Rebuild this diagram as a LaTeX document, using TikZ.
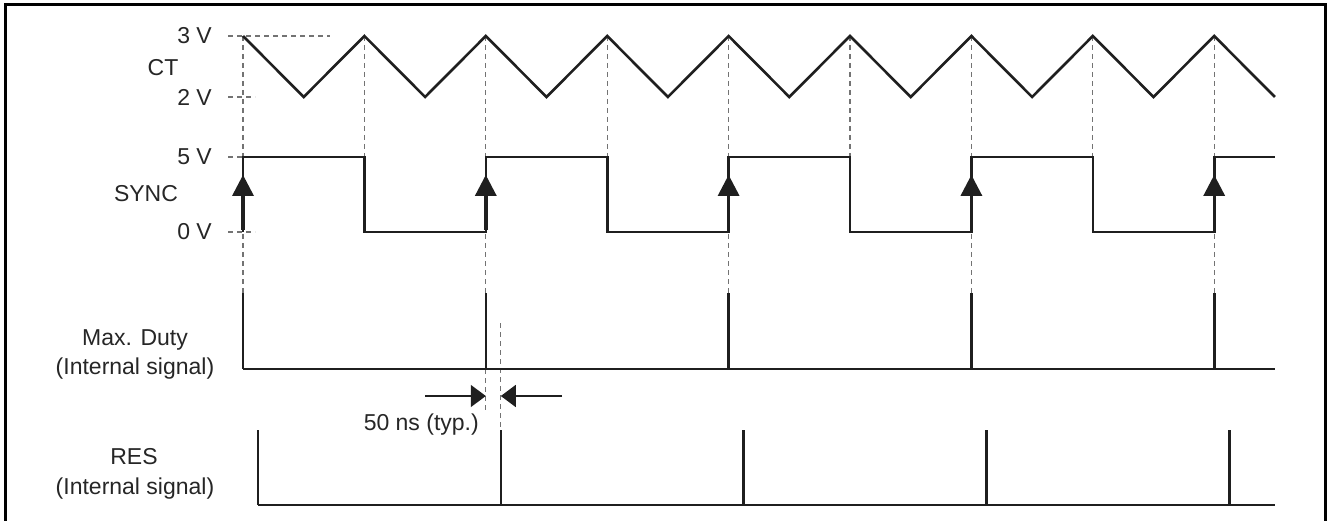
\documentclass[tikz,border=0pt]{standalone}
\usepackage{fontspec}
\setmainfont{Liberation Sans}
\usetikzlibrary{arrows.meta}
\begin{document}
\begin{tikzpicture}[x=1pt,y=-1pt,
  sig/.style={line width=2.6pt,draw=black!88,line join=miter},
  guide/.style={line width=1.2pt,draw=black!55,dash pattern=on 5pt off 4pt},
  lbl/.style={font=\fontsize{23}{29}\selectfont,inner sep=0pt,text=black!85},
  tri/.style={fill=black!88,draw=none},
  dim/.style={line width=1.5pt,draw=black!88,-{Triangle[length=15pt,width=22pt]}}]
\useasboundingbox (0,0) rectangle (1329,521);
% frame
\draw[line width=3pt] (5,540) -- (5,5) -- (1325,5) -- (1325,540);
% labels
\node[lbl,anchor=east] (l3v) at (212,36) {3 V};
\node[lbl] (lct) at (163,67.5) {CT};
\node[lbl,anchor=east] (l2v) at (212,97) {2 V};
\node[lbl,anchor=east] (l5v) at (212,157) {5 V};
\node[lbl] (lsync) at (146,193.5) {SYNC};
\node[lbl,anchor=east] (l0v) at (212,232) {0 V};
\node[lbl,anchor=base] (lmax) at (135,345) {Max. Duty};
\node[lbl,anchor=base] (lint1) at (135,374) {(Internal signal)};
\node[lbl,anchor=base] (lres) at (134,464) {RES};
\node[lbl,anchor=base] (lint2) at (135,494) {(Internal signal)};
\node[lbl,anchor=base east] (lns) at (479,430) {50 ns (typ.)};
% level guides
\draw[guide] (228,36) -- (330,36);
\draw[guide] (228,97) -- (255,97);
\draw[guide] (228,157) -- (243,157);
\draw[guide] (228,232) -- (255,232);
% vertical guides
\foreach \x in {243,485.8,728.6,971.4,1214.2} \draw[guide] (\x,36) -- (\x,293);
\foreach \x in {364.4,607.2,850,1092.8} \draw[guide] (\x,36) -- (\x,157);
\draw[guide] (485.8,369) -- (485.8,413);
\draw[guide] (500.8,323) -- (500.8,430);
% CT triangle wave
\draw[sig] (243,36)
  \foreach \k in {0,...,7} { -- ({243+121.4*\k+60.7},97) -- ({243+121.4*(\k+1)},36) }
  -- (1274.9,97);
% SYNC
\draw[sig] (243,232) -- (243,157) -- (364.4,157) -- (364.4,232) -- (485.8,232) -- (485.8,157)
  -- (607.2,157) -- (607.2,232) -- (728.6,232) -- (728.6,157) -- (850,157) -- (850,232)
  -- (971.4,232) -- (971.4,157) -- (1092.8,157) -- (1092.8,232) -- (1214.2,232) -- (1214.2,157)
  -- (1274.9,157);
\foreach \x in {243,485.8,728.6,971.4,1214.2} {
  \fill[tri] (\x,175) -- (\x+11,196) -- (\x-11,196) -- cycle;
  \draw[line width=3.4pt,draw=black!88] (\x,196) -- (\x,230);
}
% Max duty
\draw[sig] (243,369) -- (1274.9,369);
\foreach \x in {243,485.8,728.6,971.4,1214.2} \draw[sig] (\x,293) -- (\x,369);
% RES
\draw[sig] (258,505) -- (1274.9,505);
\foreach \x in {258,500.8,743.6,986.4,1229.2} \draw[sig] (\x,430) -- (\x,505);
% 50 ns dimension
\coordinate (a1) at (425,396);
\coordinate (a2) at (485.8,396);
\coordinate (b1) at (562,396);
\coordinate (b2) at (500.8,396);
\draw[dim] (a1) -- (a2);
\draw[dim] (b1) -- (b2);
\end{tikzpicture}
\end{document}
